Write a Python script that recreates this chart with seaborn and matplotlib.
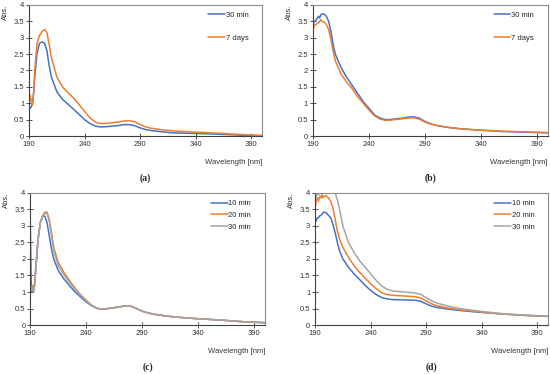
import matplotlib
matplotlib.use("Agg")
import matplotlib.pyplot as plt
import numpy as np
import pandas as pd
import seaborn as sns

BLUE = "#4472C4"
ORANGE = "#ED7D31"
GRAY = "#A5A5A5"

# panel (a)
wl_a = [190, 191, 192, 193, 194, 195, 197, 199, 200, 202, 204, 206, 208, 210, 215, 220, 225, 230, 235,
        240, 245, 250, 255, 260, 270, 275, 280, 285, 290, 295, 300, 310, 320, 340, 360, 380, 400]
a_30min = [0.9, 0.85, 0.9, 1.0, 1.3, 1.8, 2.5, 2.8, 2.85, 2.87, 2.82, 2.6, 2.15, 1.8, 1.35, 1.12, 0.97, 0.82, 0.66,
           0.5, 0.38, 0.3, 0.28, 0.29, 0.32, 0.35, 0.35, 0.32, 0.25, 0.2, 0.17, 0.13, 0.1, 0.08, 0.06, 0.03, 0.01]
a_7days = [1.0, 1.25, 1.05, 0.95, 1.3, 2.0, 2.8, 3.05, 3.1, 3.2, 3.25, 3.15, 2.8, 2.4, 1.8, 1.5, 1.33, 1.16, 0.96,
           0.75, 0.55, 0.42, 0.38, 0.39, 0.43, 0.46, 0.47, 0.44, 0.35, 0.28, 0.24, 0.19, 0.16, 0.12, 0.09, 0.05, 0.02]

# panel (b)
wl_b = [190, 191, 192, 193, 194, 195, 196, 197, 198, 200, 202, 204, 206, 208, 210, 215, 220, 225, 230, 235,
        240, 245, 250, 255, 260, 270, 275, 280, 285, 290, 295, 300, 310, 320, 340, 360, 380, 400]
b_30min = [3.35, 3.5, 3.5, 3.55, 3.6, 3.65, 3.6, 3.7, 3.72, 3.72, 3.65, 3.5, 3.2, 2.8, 2.5, 2.1, 1.8, 1.55, 1.3, 1.05,
           0.85, 0.65, 0.55, 0.5, 0.51, 0.55, 0.58, 0.59, 0.55, 0.45, 0.38, 0.33, 0.27, 0.23, 0.18, 0.14, 0.12, 0.1]
b_7days = [3.2, 3.35, 3.4, 3.4, 3.45, 3.45, 3.5, 3.55, 3.5, 3.48, 3.4, 3.25, 2.95, 2.6, 2.3, 1.9, 1.65, 1.45, 1.2, 1.0,
           0.8, 0.62, 0.52, 0.48, 0.49, 0.53, 0.55, 0.56, 0.52, 0.43, 0.37, 0.33, 0.27, 0.23, 0.18, 0.15, 0.13, 0.11]

# panel (c)
wl_c = [190, 191, 192, 193, 194, 195, 197, 199, 201, 203, 205, 207, 209, 211, 215, 220, 225, 230, 235,
        240, 245, 250, 255, 260, 270, 275, 280, 285, 290, 295, 300, 310, 320, 340, 360, 380, 400]
c_10min = [3.1, 1.0, 1.15, 1.0, 1.3, 1.8, 2.6, 3.1, 3.3, 3.3, 3.1, 2.7, 2.3, 2.0, 1.65, 1.4, 1.2, 1.0, 0.85,
           0.7, 0.58, 0.5, 0.48, 0.5, 0.55, 0.58, 0.57, 0.5, 0.42, 0.37, 0.33, 0.28, 0.24, 0.19, 0.15, 0.1, 0.07]
c_20min = [1.2, 1.1, 1.2, 1.05, 1.25, 1.7, 2.6, 3.1, 3.3, 3.42, 3.42, 3.2, 2.8, 2.35, 1.9, 1.6, 1.35, 1.12, 0.92,
           0.75, 0.6, 0.51, 0.48, 0.5, 0.55, 0.58, 0.57, 0.5, 0.42, 0.37, 0.33, 0.28, 0.24, 0.19, 0.15, 0.1, 0.07]
c_30min = [1.1, 1.05, 1.15, 1.0, 1.2, 1.7, 2.6, 3.1, 3.3, 3.38, 3.38, 3.15, 2.7, 2.25, 1.8, 1.52, 1.3, 1.08, 0.9,
           0.73, 0.59, 0.5, 0.48, 0.5, 0.55, 0.58, 0.57, 0.5, 0.42, 0.37, 0.33, 0.28, 0.24, 0.19, 0.15, 0.1, 0.07]

# panel (d)
wl_d = [190, 191, 192, 193, 194, 195, 196, 197, 198, 200, 202, 204, 206, 208, 210, 212, 215, 220, 225, 230, 235,
        240, 245, 250, 255, 260, 270, 280, 285, 290, 295, 300, 310, 320, 340, 360, 380, 400]
d_10min = [3.2, 3.15, 3.25, 3.25, 3.3, 3.32, 3.35, 3.4, 3.42, 3.4, 3.32, 3.25, 3.05, 2.8, 2.5, 2.25, 2.0, 1.75, 1.55, 1.38, 1.2,
           1.05, 0.92, 0.83, 0.79, 0.77, 0.76, 0.75, 0.72, 0.64, 0.57, 0.53, 0.48, 0.44, 0.38, 0.33, 0.29, 0.26]
d_20min = [3.5, 3.8, 3.85, 3.75, 3.9, 3.85, 3.95, 3.85, 3.9, 3.92, 3.85, 3.75, 3.55, 3.2, 2.85, 2.6, 2.35, 2.05, 1.8, 1.6, 1.42,
           1.25, 1.1, 0.98, 0.92, 0.9, 0.88, 0.86, 0.82, 0.73, 0.64, 0.58, 0.51, 0.46, 0.39, 0.33, 0.29, 0.26]
d_30min = [3.7, 3.9, 4.0, 3.95, 4.0, 4.05, 4.0, 4.1, 4.05, 4.1, 4.1, 4.05, 4.1, 4.0, 3.8, 3.5, 3.0, 2.5, 2.2, 1.95, 1.75,
           1.55, 1.35, 1.18, 1.08, 1.03, 1.0, 0.97, 0.93, 0.83, 0.73, 0.66, 0.57, 0.5, 0.41, 0.34, 0.3, 0.27]

panels = [
    ("(a)", wl_a, {"30 min": a_30min, "7 days": a_7days}, [BLUE, ORANGE], [0.053, 0.636, 0.424, 0.351], 2.0),
    ("(b)", wl_b, {"30 min": b_30min, "7 days": b_7days}, [BLUE, ORANGE], [0.569, 0.636, 0.427, 0.351], 2.0),
    ("(c)", wl_c, {"10 min": c_10min, "20 min": c_20min, "30 min": c_30min}, [BLUE, ORANGE, GRAY],
     [0.055, 0.131, 0.427, 0.353], 0.6),
    ("(d)", wl_d, {"10 min": d_10min, "20 min": d_20min, "30 min": d_30min}, [BLUE, ORANGE, GRAY],
     [0.573, 0.131, 0.424, 0.353], 0.6),
]

sns.set_theme(style="white")
plt.rcParams["font.family"] = ["Liberation Sans", "DejaVu Sans"]

fig = plt.figure(figsize=(5.5, 3.74), dpi=100)

for label, wl, series, colors, pos, spacing in panels:
    ax = fig.add_axes(pos)
    df = pd.DataFrame(series)
    df["wl"] = wl
    long = df.melt(id_vars="wl", var_name="series", value_name="abs")
    sns.lineplot(data=long, x="wl", y="abs", hue="series", palette=colors, linewidth=1.1, ax=ax)
    ax.set_xlim(190, 400)
    ax.set_ylim(0, 4)
    ax.set_xticks([190, 240, 290, 340, 390])
    ax.set_yticks(np.arange(0, 4.01, 0.5))
    ax.set_yticklabels(["0", "0.5", "1", "1.5", "2", "2.5", "3", "3.5", "4"])
    ax.tick_params(axis="both", labelsize=5.5, direction="inout", length=4, width=0.6,
                   colors="#333333", pad=1.5, left=True, bottom=True)
    for side in ["left", "bottom"]:
        ax.spines[side].set_color("#404040")
        ax.spines[side].set_linewidth(0.8)
    for side in ["top", "right"]:
        ax.spines[side].set_color("#8c8c8c")
        ax.spines[side].set_linewidth(0.8)
    ax.set_ylabel("")
    ax.set_xlabel("Wavelength [nm]", fontsize=5.5, loc="right", labelpad=8, color="#333333")
    ax.text(-0.1, 1.0, "Abs.", transform=ax.transAxes, rotation=90, fontsize=5.5,
            ha="center", va="top", color="#333333")
    ax.legend(loc="upper right", bbox_to_anchor=(0.97, 1.0), frameon=False, fontsize=5.5,
              handlelength=2.2, handletextpad=0.1, labelspacing=spacing)
    ax.text(0.5, -0.32, label, transform=ax.transAxes, fontsize=7, fontweight="bold",
            family="Liberation Serif", ha="center", va="center")

fig.savefig("out.png", dpi=100)
